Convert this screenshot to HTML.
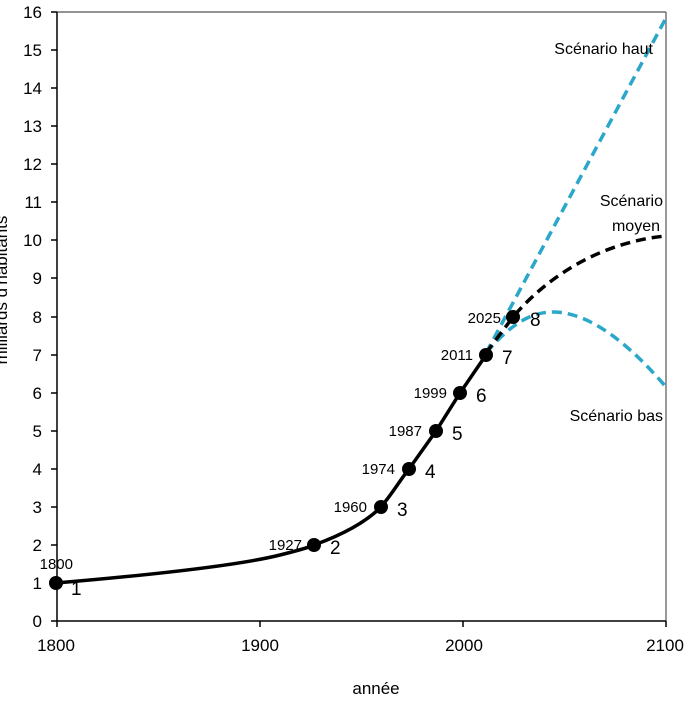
<!DOCTYPE html>
<html><head><meta charset="utf-8"><style>body{margin:0;background:#fff}</style></head><body>
<svg width="700" height="700" xmlns="http://www.w3.org/2000/svg" font-family="Liberation Sans, sans-serif">
<rect width="700" height="700" fill="#fff"/>
<g stroke="#555" stroke-width="1.2" fill="none">
<line x1="57" y1="12" x2="666" y2="12"/>
<line x1="666" y1="12" x2="666" y2="621"/>
</g>
<g stroke="#000" stroke-width="1.5">
<line x1="57" y1="12" x2="57" y2="621"/>
<line x1="57" y1="621" x2="666" y2="621"/>
<line x1="51" y1="12" x2="57" y2="12"/><line x1="51" y1="50" x2="57" y2="50"/><line x1="51" y1="88" x2="57" y2="88"/><line x1="51" y1="126" x2="57" y2="126"/><line x1="51" y1="164" x2="57" y2="164"/><line x1="51" y1="202" x2="57" y2="202"/><line x1="51" y1="240" x2="57" y2="240"/><line x1="51" y1="278" x2="57" y2="278"/><line x1="51" y1="317" x2="57" y2="317"/><line x1="51" y1="355" x2="57" y2="355"/><line x1="51" y1="393" x2="57" y2="393"/><line x1="51" y1="431" x2="57" y2="431"/><line x1="51" y1="469" x2="57" y2="469"/><line x1="51" y1="507" x2="57" y2="507"/><line x1="51" y1="545" x2="57" y2="545"/><line x1="51" y1="583" x2="57" y2="583"/><line x1="51" y1="621" x2="57" y2="621"/>
<line x1="57" y1="621" x2="57" y2="627"/><line x1="260" y1="621" x2="260" y2="627"/><line x1="463" y1="621" x2="463" y2="627"/><line x1="666" y1="621" x2="666" y2="627"/>
</g>
<g font-size="17" text-anchor="end" fill="#000">
<text x="42" y="18">16</text><text x="42" y="56">15</text><text x="42" y="94">14</text><text x="42" y="132">13</text><text x="42" y="170">12</text><text x="42" y="208">11</text><text x="42" y="246">10</text><text x="42" y="284">9</text><text x="42" y="323">8</text><text x="42" y="361">7</text><text x="42" y="399">6</text><text x="42" y="437">5</text><text x="42" y="475">4</text><text x="42" y="513">3</text><text x="42" y="551">2</text><text x="42" y="589">1</text><text x="42" y="627">0</text>
</g>
<g font-size="17" text-anchor="middle">
<text x="56" y="651">1800</text><text x="260" y="651">1900</text><text x="464" y="651">2000</text><text x="665" y="651">2100</text>
<text x="376" y="694">année</text>
</g>
<text transform="translate(7,290) rotate(-90)" font-size="17" text-anchor="middle">milliards d'habitants</text>
<g fill="none" stroke-width="3.5" stroke-dasharray="10,6">
<path d="M486,353 L666,18" stroke="#2aa7c9"/>
<path d="M486,353 C510,325 530,312 553,312 C590,312 630,345 666,387" stroke="#2aa7c9"/>
<path d="M486,353 L513,317 C560,262 620,240 666,236" stroke="#000"/>
</g>
<path d="M56,583 C150,575 240,565 280,555 C300,550 310,547 314,545 C350,532 370,518 381,507 C395,490 400,480 409,469 L436,431 L460,393 L486,355" fill="none" stroke="#000" stroke-width="3.5"/>
<g fill="#000">
<circle cx="56" cy="583" r="7"/><circle cx="314" cy="545" r="7"/><circle cx="381" cy="507" r="7"/><circle cx="409" cy="469" r="7"/><circle cx="436" cy="431" r="7"/><circle cx="460" cy="393" r="7"/><circle cx="486" cy="355" r="7"/><circle cx="513" cy="317" r="7"/>
</g>
<g font-size="15" text-anchor="end">
<text x="73" y="569">1800</text><text x="302" y="550">1927</text><text x="367" y="512">1960</text><text x="395" y="474">1974</text><text x="422" y="436">1987</text><text x="447" y="398">1999</text><text x="473" y="360">2011</text><text x="501" y="323">2025</text>
</g>
<g font-size="19">
<text x="71" y="595">1</text><text x="330" y="554">2</text><text x="397" y="516">3</text><text x="425" y="478">4</text><text x="452" y="440">5</text><text x="476" y="402">6</text><text x="502" y="364">7</text><text x="530" y="326">8</text>
</g>
<g font-size="16" text-anchor="end">
<text x="653" y="54">Scénario haut</text>
<text x="663" y="206">Scénario</text><text x="660" y="231">moyen</text>
<text x="663" y="421">Scénario bas</text>
</g>
</svg>
</body></html>
